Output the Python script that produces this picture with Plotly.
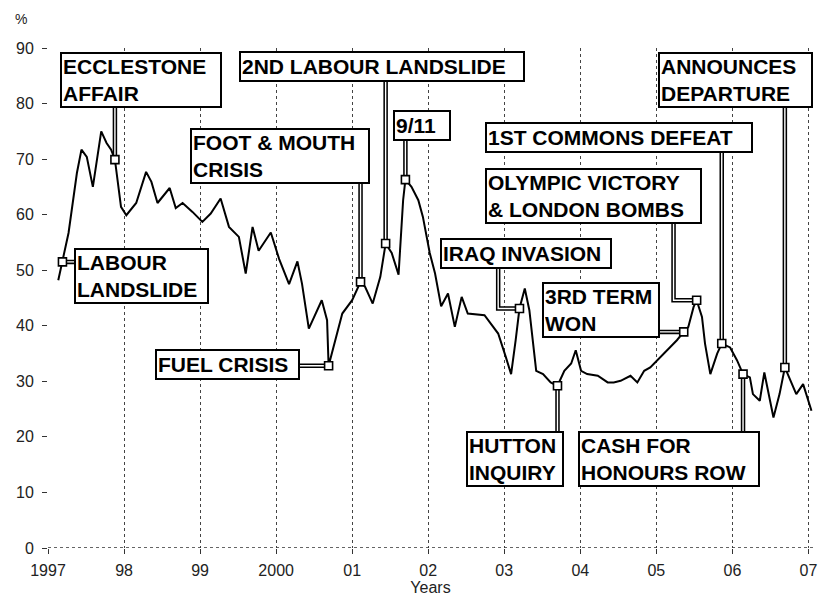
import plotly.graph_objects as go

# ---------------- data ----------------
years = [1997.135, 1997.19, 1997.27, 1997.38, 1997.44, 1997.51, 1997.59, 1997.70, 1997.77, 1997.83,
         1997.88, 1997.96, 1998.03, 1998.16, 1998.29, 1998.36, 1998.44, 1998.60, 1998.68, 1998.77,
         1998.90, 1999.03, 1999.14, 1999.27, 1999.38, 1999.51, 1999.60, 1999.69, 1999.77, 1999.93,
         2000.04, 2000.17, 2000.28, 2000.34, 2000.43, 2000.60, 2000.67, 2000.69, 2000.78, 2000.87,
         2001.00, 2001.11, 2001.17, 2001.27, 2001.37, 2001.44, 2001.52, 2001.61, 2001.67, 2001.70,
         2001.78, 2001.87, 2001.93, 2002.02, 2002.09, 2002.17, 2002.26, 2002.35, 2002.44, 2002.52,
         2002.74, 2002.92, 2003.02, 2003.09, 2003.15, 2003.20, 2003.27, 2003.33, 2003.42, 2003.51,
         2003.61, 2003.70, 2003.79, 2003.88, 2003.94, 2004.01, 2004.09, 2004.23, 2004.36, 2004.44,
         2004.53, 2004.66, 2004.75, 2004.84, 2004.92, 2005.01, 2005.10, 2005.18, 2005.27, 2005.36,
         2005.42, 2005.49, 2005.53, 2005.60, 2005.64, 2005.71, 2005.80, 2005.86, 2005.97, 2006.06,
         2006.14, 2006.23, 2006.27, 2006.36, 2006.42, 2006.54, 2006.62, 2006.69, 2006.75, 2006.84,
         2006.93, 2007.04]
approval = [48.2, 51.5, 56.7, 67.5, 71.7, 70.4, 65.0, 75.0, 72.9, 71.7,
            69.9, 61.4, 59.9, 62.1, 67.7, 65.9, 62.1, 64.8, 61.2, 62.1,
            60.5, 58.7, 60.2, 62.9, 57.8, 56.0, 49.4, 57.8, 53.5, 56.8,
            52.0, 47.5, 51.6, 47.6, 39.5, 44.6, 41.0, 32.8, 37.4, 42.2,
            44.6, 47.9, 47.0, 44.0, 48.8, 54.8, 53.1, 49.2, 62.6, 66.3,
            65.0, 62.6, 59.6, 53.1, 49.4, 43.5, 45.8, 39.8, 45.2, 42.2,
            41.9, 38.6, 34.4, 31.3, 37.4, 43.1, 46.7, 42.8, 31.9, 31.3,
            29.8, 29.2, 31.9, 33.2, 35.6, 31.9, 31.3, 31.0, 29.8, 29.8,
            30.1, 31.0, 29.8, 31.9, 32.5, 33.8, 35.0, 36.1, 37.4, 38.9,
            39.8, 43.4, 44.6, 41.6, 36.8, 31.3, 35.0, 36.8, 36.1, 33.8,
            31.3, 30.7, 27.7, 26.5, 31.6, 23.5, 27.7, 32.5, 30.7, 27.7,
            29.5, 24.7]

tick_years = [1997, 1998, 1999, 2000, 2001, 2002, 2003, 2004, 2005, 2006, 2007]
tick_labels = ["1997", "98", "99", "2000", "01", "02", "03", "04", "05", "06", "07"]
y_ticks = [0, 10, 20, 30, 40, 50, 60, 70, 80, 90]

event_labels = ["LABOUR<br>LANDSLIDE", "ECCLESTONE<br>AFFAIR", "FUEL CRISIS", "FOOT & MOUTH<br>CRISIS",
                "2ND LABOUR LANDSLIDE", "9/11", "IRAQ INVASION", "HUTTON<br>INQUIRY",
                "3RD TERM<br>WON", "OLYMPIC VICTORY<br>& LONDON BOMBS", "1ST COMMONS DEFEAT",
                "CASH FOR<br>HONOURS ROW", "ANNOUNCES<br>DEPARTURE"]
event_index = [1, 10, 37, 41, 45, 49, 65, 71, 89, 92, 97, 100, 107]

# ---------------- layout of the label boxes ----------------
# (box centre x in years, box centre y in %, box width px, connector kind, elbow x)
box_layout = [
    (1998.236, 48.9, 135, "h", None),
    (1998.225, 84.2, 162, "v", None),
    (1999.358, 33.1, 145, "h", None),
    (2000.056, 70.6, 180, "v", None),
    (2001.391, 86.6, 286, "v", None),
    (2001.917, 76.1, 58, "v", None),
    (2003.290, 53.1, 172, "e", 2002.92),
    (2003.140, 16.1, 98, "v", None),
    (2004.268, 42.9, 118, "h", None),
    (2004.175, 63.4, 217, "e", 2005.226),
    (2004.513, 73.95, 268, "v", None),
    (2005.167, 16.1, 182, "v", None),
    (2006.040, 84.2, 155, "v", None),
]

W, H = 823, 602
ML, MR, MT, MB = 48, 6, 48, 54
XR = [1997, 2007.06]
YR = [0, 90]

fig = go.Figure()

# connectors (drawn as hollow double lines), ending inside the boxes
cx, cy = [], []
for idx, (bx, by, bw, kind, ex) in zip(event_index, box_layout):
    px_, py_ = years[idx], approval[idx]
    if kind == "v":
        cx += [px_, px_, None]
        cy += [py_, by, None]
    elif kind == "h":
        cx += [px_, bx, None]
        cy += [py_, py_, None]
    else:
        cx += [px_, ex, ex, None]
        cy += [py_, py_, by, None]

fig.add_trace(go.Scatter(x=years, y=approval, mode="lines",
                         line=dict(color="black", width=2), hoverinfo="skip", cliponaxis=False))
fig.add_trace(go.Scatter(x=cx, y=cy, mode="lines",
                         line=dict(color="black", width=4.5), hoverinfo="skip"))
fig.add_trace(go.Scatter(x=cx, y=cy, mode="lines",
                         line=dict(color="white", width=1.4), hoverinfo="skip"))
fig.add_trace(go.Scatter(x=[years[i] for i in event_index], y=[approval[i] for i in event_index],
                         mode="markers",
                         marker=dict(symbol="square", size=8, color="white",
                                     line=dict(color="black", width=1.6)),
                         hoverinfo="skip"))

for lab, (bx, by, bw, kind, ex) in zip(event_labels, box_layout):
    two = "<br>" in lab
    fig.add_annotation(x=bx, y=by, xref="x", yref="y", text=lab, showarrow=False,
                       xanchor="center", yanchor="middle", align="left", valign="middle",
                       width=bw - 6, height=(50 if two else 25),
                       borderpad=1, borderwidth=2,
                       bordercolor="black", bgcolor="white",
                       font=dict(family="Liberation Sans", size=21, color="black", weight="bold"))

pw = W - ML - MR
ph = H - MT - MB
fig.add_annotation(x=(21 - ML) / pw, y=1 + (MT - 19) / ph, xref="paper", yref="paper",
                   text="%", showarrow=False, xanchor="center", yanchor="middle",
                   font=dict(family="Liberation Sans", size=14, color="#222"))

# dotted x axis line
fig.add_shape(type="line", xref="paper", yref="y", x0=0, x1=1, y0=0, y1=0,
              line=dict(color="#333", width=1.3, dash="dot"))

tickfont = dict(family="Liberation Sans", size=16, color="#222")
fig.update_layout(
    width=W, height=H,
    margin=dict(l=ML, r=MR, t=MT, b=MB, pad=0),
    paper_bgcolor="white", plot_bgcolor="white",
    showlegend=False,
    xaxis=dict(range=XR, tickmode="array", tickvals=tick_years, ticktext=tick_labels,
               showgrid=True, gridcolor="#444", gridwidth=1, griddash="dot",
               ticks="outside", ticklen=5, tickcolor="#333", tickwidth=1,
               ticklabelstandoff=3, tickfont=tickfont, zeroline=False, showline=False,
               fixedrange=True,
               title=dict(text="Years", font=dict(family="Liberation Sans", size=16, color="#222"),
                          standoff=2)),
    yaxis=dict(range=YR, tickmode="array", tickvals=y_ticks,
               showgrid=False, zeroline=False, showline=False, fixedrange=True,
               ticks="outside", ticklen=5, tickcolor="#333", tickwidth=1,
               ticklabelstandoff=5, tickfont=tickfont),
)

fig.write_html("out.html", config={"displayModeBar": False},
               post_script="document.body.style.margin='0';")
